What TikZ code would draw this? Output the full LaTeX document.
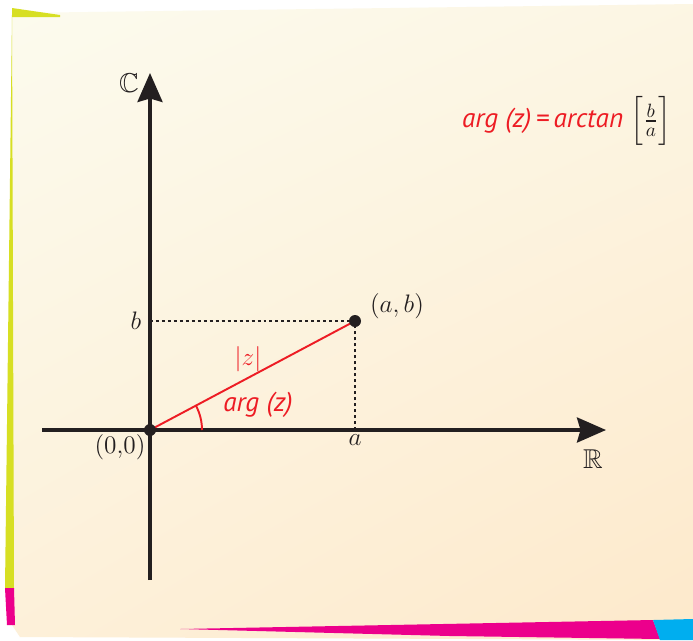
\documentclass[tikz,border=0pt]{standalone}
\usepackage{amsmath, amssymb}
\usepackage{fontspec}
\newfontfamily\argfont{PT Sans}
\usetikzlibrary{arrows.meta, positioning, calc, shadings}
\definecolor{cardtop}{RGB}{252,251,238}
\definecolor{cardbot}{RGB}{253,233,203}
\definecolor{argred}{RGB}{237,28,36}
\definecolor{edgelime}{RGB}{215,223,35}
\definecolor{edgepink}{RGB}{236,0,140}
\definecolor{edgeblue}{RGB}{0,174,239}
\definecolor{inkblack}{RGB}{35,31,32}

\begin{document}
\begin{tikzpicture}[x=0.02cm, y=-0.02cm,
    axis/.style={draw=inkblack, line width=2pt, -{Stealth[length=0.58cm, width=0.5cm, inset=0.07cm]}},
    guide/.style={draw=inkblack, line width=1.1pt, dash pattern=on 1.7pt off 1.7pt},
    vector/.style={draw=argred, line width=1.1pt},
    dot/.style={circle, fill=inkblack, inner sep=0pt, minimum size=0.24cm},
    lbl/.style={text=inkblack, font=\fontsize{15.5}{18}\selectfont, inner sep=1pt},
    redlbl/.style={text=argred, font=\argfont\itshape\fontsize{15.5}{18}\selectfont, inner sep=1pt}]

    % card
    \useasboundingbox (0,0) rectangle (693,640);
    \fill[white] (0,0) rectangle (693,640);
    \shade[shading=bilinear interpolation, upper left=cardtop, upper right=cardtop!70!cardbot,
        lower left=cardtop!40!cardbot, lower right=cardbot]
        (12,13) -- (693,4) -- (693,640) -- (20,637) -- (12,625) -- cycle;
    \fill[edgelime] (12,8) -- (60,15) -- (60,17) -- (12,17) -- cycle;
    \fill[edgelime] (12,15) -- (14,588) -- (5,588) -- cycle;
    \fill[edgepink] (5,588) -- (14,588) -- (15,625) -- (7,625) -- cycle;
    \fill[edgepink] (180,629) -- (653,620) -- (660,639) -- (450,636) -- cycle;
    \fill[edgeblue] (653,620) -- (693,619) -- (693,640) -- (660,640) -- cycle;

    \coordinate (xstart) at (42,430);
    \coordinate (xend) at (606,430);
    \coordinate (ystart) at (150,580);
    \coordinate (yend) at (150,73);
    \coordinate (origin) at (150,430);
    \coordinate (zpt) at (355,321);
    \coordinate (bfoot) at (150,321);
    \coordinate (afoot) at (355,430);

    \draw[guide] (bfoot) -- (zpt);
    \draw[guide] (afoot) -- (zpt);
    \draw[axis] (xstart) -- (xend);
    \draw[axis] (ystart) -- (yend);
    \draw[vector] (origin) -- (zpt);
    \draw[vector] ($(origin)+(52,0)$) arc[start angle=0, end angle=28, radius=1.04cm];

    \node[dot] (odot) at (origin) {};
    \node[dot] (zdot) at (zpt) {};

    \node[lbl] (clabel) at (129,83) {$\mathbb{C}$};
    \node[lbl] (rlabel) at (593,459) {$\mathbb{R}$};
    \node[lbl] (blabel) at (136,321) {$b$};
    \node[lbl] (alabel) at (355,440) {$a$};
    \node[lbl] (zlabel) at (397,306) {$(a,b)$};
    \node[lbl] (olabel) at (120,447) {$(0{,}0)$};

    \node[lbl, text=argred] (modlabel) at (248,359) {$|z|$};
    \node[redlbl] (arglabel) at (258,405) {arg (z)};
    \node[redlbl, anchor=east] (formula) at (673,121)
        {arg (z)\,=\,arctan\;\textcolor{inkblack}{$\Bigl[\frac{b}{a}\Bigr]$}};
\end{tikzpicture}
\end{document}
